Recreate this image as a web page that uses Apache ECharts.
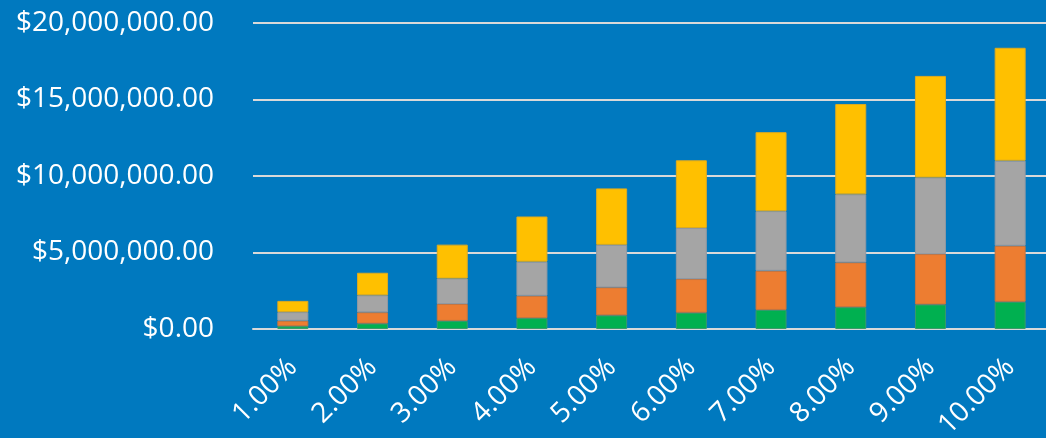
<!DOCTYPE html>
<html>
<head>
<meta charset="utf-8">
<script src="https://cdn.jsdelivr.net/npm/echarts@6/dist/echarts.min.js"></script>
<style>
html,body{margin:0;padding:0;background:#0079BF;}
#chart{width:1046px;height:438px;}
</style>
</head>
<body>
<div id="chart"></div>
<script>
const categories = ['1.00%','2.00%','3.00%','4.00%','5.00%','6.00%','7.00%','8.00%','9.00%','10.00%'];
const seriesGreen  = [178000, 356000, 534000, 712000, 890000, 1068000, 1246000, 1424000, 1602000, 1780000];
const seriesOrange = [366000, 732000, 1098000, 1464000, 1830000, 2196000, 2562000, 2928000, 3294000, 3660000];
const seriesGray   = [556000, 1112000, 1668000, 2224000, 2780000, 3336000, 3892000, 4448000, 5004000, 5560000];
const seriesYellow = [738000, 1476000, 2214000, 2952000, 3690000, 4428000, 5166000, 5904000, 6642000, 7380000];
const yTicks = {min: 0, max: 20000000, interval: 5000000};

const chart = echarts.init(document.getElementById('chart'));
function fmt(v){
  return '$' + Number(v).toLocaleString('en-US',{minimumFractionDigits:2, maximumFractionDigits:2});
}
function bar(name, data, color, border){
  return {name, type:'bar', stack:'total', data, barWidth:31,
    itemStyle:{color, borderColor:border, borderWidth:1}};
}
chart.setOption({
  backgroundColor:'#0079BF',
  animation:false,
  grid:{left:253, top:23, width:797, height:306, outerBoundsMode:'none', containLabel:false},
  xAxis:{type:'category', data:categories,
    axisLine:{show:true, lineStyle:{color:'#D9D9D9', width:2}},
    axisTick:{show:false},
    axisLabel:{color:'#FFFFFF', rotate:45, fontSize:28, fontFamily:'Open Sans', margin:34, interval:0}
  },
  yAxis:{type:'value', min:yTicks.min, max:yTicks.max, interval:yTicks.interval,
    axisLine:{show:false}, axisTick:{show:false},
    splitLine:{lineStyle:{color:'#D9D9D9', width:2}},
    axisLabel:{color:'#FFFFFF', fontSize:28, fontFamily:'Open Sans', margin:39, formatter:fmt}
  },
  series:[
    bar('A', seriesGreen, '#00B050', '#3A9A6A'),
    bar('B', seriesOrange, '#ED7D31', '#C7753E'),
    bar('C', seriesGray, '#A5A5A5', '#9199A2'),
    bar('D', seriesYellow, '#FFC000', '#DDAA20')
  ]
});
</script>
</body>
</html>
